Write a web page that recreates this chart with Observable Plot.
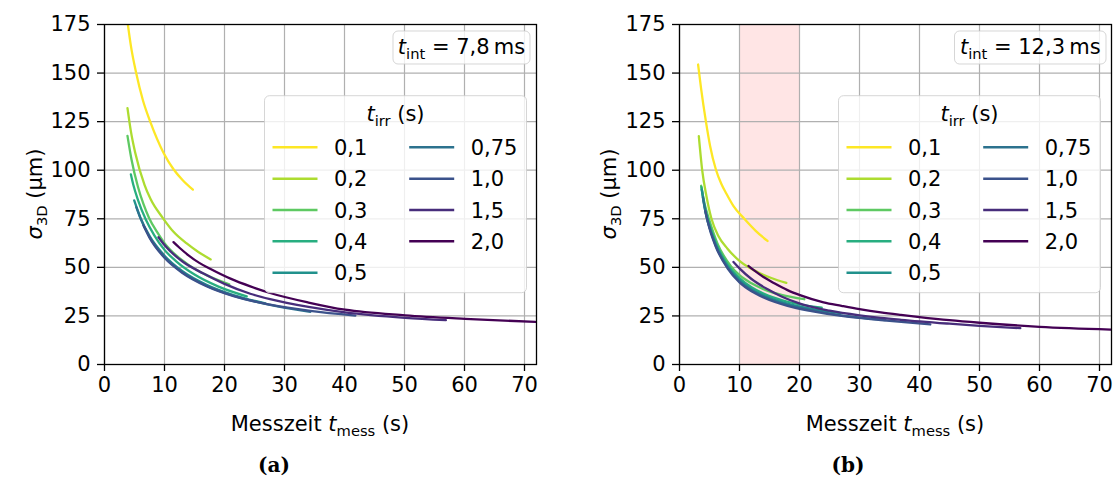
<!DOCTYPE html>
<html><head><meta charset="utf-8">
<script src="https://cdn.jsdelivr.net/npm/d3@7"></script>
<script src="https://cdn.jsdelivr.net/npm/@observablehq/plot@0.6"></script>
<style>
body{margin:0;background:#fff;}
#wrap{position:relative;width:1113px;height:480px;overflow:hidden;background:#fff;}
#pa{position:absolute;left:0;top:0;}
#pb{position:absolute;left:574px;top:0;}
</style></head><body><div id="wrap"><div id="pa"></div><div id="pb"></div></div>
<script>
// ---------- data ----------
const tIrr = ["0,1","0,2","0,3","0,4","0,5","0,75","1,0","1,5","2,0"];
const xTicks = [0,10,20,30,40,50,60,70];
const yTicks = [0,25,50,75,100,125,150,175];
const tIntA = "7,8";
const tIntB = "12,3";
const bandB = [10, 20];

// panel (a): [t_mess (s), sigma_3D (µm)]
const a_01 = [[3.83,176.5],[4.4,164],[5.28,150],[6.4,136],[7.62,125],[9.83,109],[11.5,100.5],[13,95],[14.73,90]];
const a_02 = [[3.83,132],[4.4,120],[5.12,109],[6.67,92.5],[7.7,85],[9.7,75.5],[11.5,68.3],[13.7,62.3],[15.7,57.8],[17.7,54.1]];
const a_03 = [[3.83,117.7],[4.5,105.5],[5.57,91.5],[6.5,82.5],[7.45,75.3],[8.7,68.5],[10,62.5],[12,56],[14,51.3],[17,46],[20.8,41.2]];
const a_04 = [[4.4,97.8],[4.8,92.5],[5.6,84.5],[6.9,74.5],[8.3,66.5],[10,59],[12,53],[15,46.3],[19,40.1],[23.7,35.1]];
const a_05 = [[4.95,84.5],[6,75.5],[7.5,66.2],[10,56],[13,48],[17,41],[21.5,35.7],[26.8,31.4]];
const a_075 = [[5.3,81],[6,75.2],[7.5,65.7],[10,55.4],[13,47.5],[17,40.6],[21.5,35.4],[26.8,31.2],[34.3,27.1]];
const a_10 = [[6.5,71.5],[7.5,65.3],[10,54.9],[13,47.1],[17,40.3],[21.5,35.2],[27.6,30.8],[34.3,27.6],[41.8,25.2]];
const a_15 = [[9,65.5],[10,61.5],[11,58.2],[13,53],[16.5,46.8],[20,41.5],[24.3,36.4],[27.6,33.6],[34,29.6],[40.1,26.8],[50.1,24],[56.9,22.8]];
const a_20 = [[11.5,63],[12.5,60.1],[14,56.2],[15.8,52.3],[17.6,49.3],[21,44.2],[24.3,40.2],[27.6,36.8],[34,31.9],[40.1,28.2],[50.1,25.3],[60.1,23.5],[71.8,21.9]];

// panel (b)
const b_01 = [[3.1,154.4],[3.6,142],[4.38,125.5],[5.1,112.5],[6.05,100.5],[7,92.8],[7.8,88],[9,81.5],[10.8,75],[12.7,68.8],[14.67,63.6]];
const b_02 = [[3.22,117.5],[3.78,100],[4.5,86.5],[5.33,75],[6.5,66],[8,59.6],[10.2,52.8],[13,47.6],[15.3,44.5],[17.8,42]];
const b_03 = [[3.6,92],[4.2,82.5],[4.9,75],[6.3,62.5],[8.6,50.5],[10,46],[12,41.8],[14,38.8],[17,35.8],[20.8,33.6]];
const b_04 = [[3.67,91.3],[4.2,81.5],[4.8,74],[6,63],[8,51.5],[10,44.5],[12,39.8],[14,36.5],[18,32.3],[23.7,29.3]];
const b_05 = [[3.7,90],[4.2,80.5],[4.8,72.8],[6,62],[8,50.5],[10,43.5],[12,38.8],[14,35.5],[18,31.3],[22,28.6],[26.8,26.4]];
const b_075 = [[3.9,86],[4.5,76],[5,70.5],[6,61.5],[8,50],[10,42.8],[12,38.2],[14,35],[18,30.7],[22,28],[27,25.3],[34.3,22.9]];
const b_10 = [[4.3,79],[5,70],[6,61],[8,49.5],[10,42.3],[12,37.7],[14,34.5],[18,30.2],[22,27.5],[27,25],[33.55,22.9],[41.8,20.6]];
const b_15 = [[9,52.8],[10,49.5],[12,44],[14.7,38.7],[17,35],[20.2,31.2],[25,27.7],[30,25.3],[33.55,24],[36.9,23],[45,21],[50,19.9],[56.8,18.7]];
const b_20 = [[11.5,50.7],[12.5,48.3],[14,45],[15.8,41.8],[18,38.3],[20.2,35.6],[24,32],[27,30.2],[30,28.5],[33.55,26.8],[36.9,25.5],[40,24.4],[45,22.8],[50,21.5],[60,19.4],[71.9,18]];

const seriesA = [a_01,a_02,a_03,a_04,a_05,a_075,a_10,a_15,a_20];
const seriesB = [b_01,b_02,b_03,b_04,b_05,b_075,b_10,b_15,b_20];

// ---------- style ----------
const palette = tIrr.map((_, i) => d3.interpolateViridis(1 - i / 8));
const FONT = "DejaVu Sans";
const FS = 21;

function rows(list) {
  return list.flatMap((s, i) => s.map(([t, v]) => ({t, v, k: tIrr[i]})));
}

function rich(parent, parts, x, y, anchor, size) {
  const t = parent.append("text").attr("x", x).attr("y", y)
    .attr("text-anchor", anchor).attr("font-size", size).attr("fill", "black");
  let shift = 0;
  for (const p of parts) {
    const ts = t.append("tspan").text(p.t);
    const target = p.sub ? Math.round(size * 0.25) : 0;
    if (target !== shift) { ts.attr("dy", target - shift); shift = target; }
    if (p.sub) ts.attr("font-size", size * 0.7);
    if (p.it) ts.attr("font-style", "italic");
  }
  return t;
}

function panel(el, list, band, tInt, tag, W, ML, MR, tbox) {
  const marks = [];
  if (band) marks.push(Plot.rect([band], {x1: d => d[0], x2: d => d[1], fill: "#ff0000", fillOpacity: 0.1}));
  marks.push(
    Plot.gridX(xTicks, {stroke: "#b0b0b0", strokeOpacity: 1, strokeWidth: 1.2}),
    Plot.gridY(yTicks, {stroke: "#b0b0b0", strokeOpacity: 1, strokeWidth: 1.2}),
    Plot.line(rows(list), {x: "t", y: "v", z: "k", stroke: "k", strokeWidth: 2.3, curve: "monotone-x", clip: true}),
    Plot.frame({stroke: "black", strokeWidth: 1.3}),
    Plot.axisX(xTicks, {tickSize: 7, tickPadding: 6, strokeWidth: 1.3, label: null}),
    Plot.axisY(yTicks, {tickSize: 7, tickPadding: 7, strokeWidth: 1.3, label: null})
  );
  const fig = Plot.plot({
    width: W, height: 480,
    marginTop: 24, marginBottom: 116, marginLeft: ML, marginRight: MR,
    x: {domain: [0, 72], label: null},
    y: {domain: [0, 175], label: null},
    color: {domain: tIrr, range: palette},
    style: {fontFamily: FONT, fontSize: FS + "px", color: "black", background: "white", overflow: "visible"},
    marks
  });
  el.appendChild(fig);
  const svg = d3.select(fig);
  svg.selectAll("text").attr("font-family", FONT).attr("font-size", FS);
  const g = svg.append("g").attr("font-family", FONT).attr("text-anchor", "start");
  const cx = ML + (W - ML - MR) / 2;
  // axis labels
  rich(g, [{t: "Messzeit "}, {t: "t", it: true}, {t: "mess", sub: true}, {t: " (s)"}], cx, 431, "middle", FS);
  const yl = rich(g, [{t: "σ", it: true}, {t: "3D", sub: true}, {t: " (µm)"}], 0, 0, "middle", FS);
  yl.attr("transform", `translate(42,194) rotate(-90)`);
  // sub caption
  g.append("text").attr("x", 274).attr("y", 472).attr("text-anchor", "middle")
    .attr("font-family", "DejaVu Serif").attr("font-weight", "bold").attr("font-size", 20).text(tag);
  // t_int box
  g.append("rect").attr("x", tbox[0]).attr("y", 31).attr("width", tbox[1]).attr("height", 33).attr("rx", 5)
    .attr("fill", "white").attr("fill-opacity", 0.8).attr("stroke", "#cccccc").attr("stroke-opacity", 0.8);
  rich(g, [{t: "t", it: true}, {t: "int", sub: true}, {t: " = " + tInt + "\u2009ms"}], tbox[0] + tbox[1] / 2, 54, "middle", FS);
  // legend
  const L = 264.5, T = 95.7, LW = 262, LH = 197;
  g.append("rect").attr("x", L).attr("y", T).attr("width", LW).attr("height", LH).attr("rx", 5)
    .attr("fill", "white").attr("fill-opacity", 0.8).attr("stroke", "#cccccc").attr("stroke-opacity", 0.8);
  rich(g, [{t: "t", it: true}, {t: "irr", sub: true}, {t: " (s)"}], L + LW / 2, 121, "middle", FS);
  tIrr.forEach((lab, i) => {
    const col = i < 5 ? 0 : 1, row = i < 5 ? i : i - 5;
    const y = 147.3 + row * 31.35;
    const x0 = L + 8 + col * 136.7;
    g.append("line").attr("x1", x0).attr("x2", x0 + 45).attr("y1", y).attr("y2", y)
      .attr("stroke", palette[i]).attr("stroke-width", 2.5);
    g.append("text").attr("x", x0 + 61.5).attr("y", y + 7.5).attr("text-anchor", "start")
      .attr("font-size", FS).text(lab);
  });
}

panel(document.getElementById("pa"), seriesA, null, tIntA, "(a)", 548, 104, 12, [393, 137]);
panel(document.getElementById("pb"), seriesB, bandB, tIntB, "(b)", 539, 105, 2, [380.5, 151.5]);
</script></body></html>
